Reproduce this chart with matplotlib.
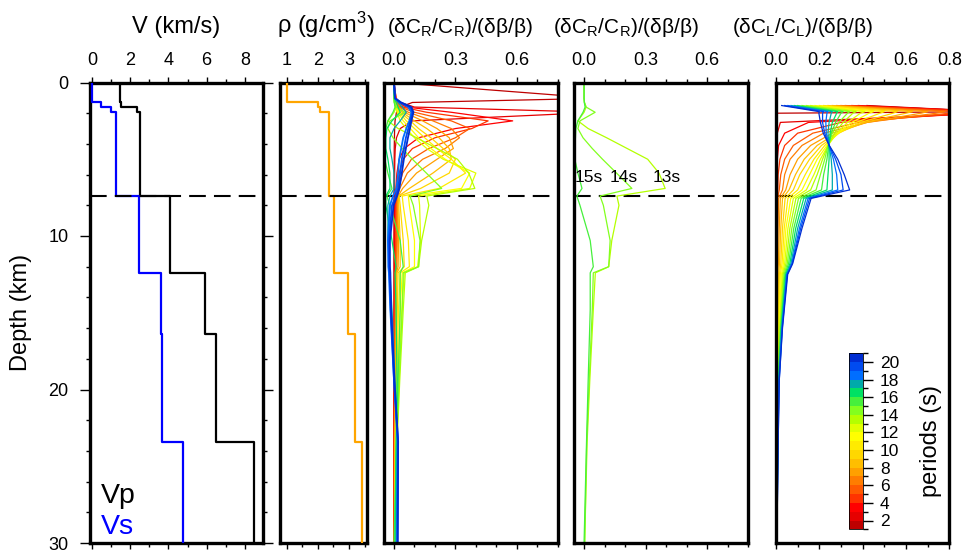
import numpy as np
import matplotlib
matplotlib.use('Agg')
import matplotlib.pyplot as plt
from matplotlib.colors import ListedColormap, BoundaryNorm
from matplotlib.cm import ScalarMappable
from matplotlib.ticker import MultipleLocator, FixedLocator, FormatStrFormatter

plt.rcParams['font.family'] = ['Liberation Sans', 'DejaVu Sans']
plt.rcParams['mathtext.fontset'] = 'custom'
plt.rcParams['mathtext.rm'] = 'Liberation Sans'
plt.rcParams['mathtext.it'] = 'Liberation Sans'
plt.rcParams['mathtext.bf'] = 'Liberation Sans:bold'

# ---------------- velocity / density model ----------------
model_depth = [0.0, 1.3, 1.57, 1.9, 7.4, 12.4, 16.4, 23.4, 30.0]
vp = [1.48, 1.54, 2.35, 2.49, 4.06, 5.89, 6.50, 8.45]
vs = [0.0, 0.455, 0.98, 1.24, 2.46, 3.61, 3.66, 4.76]
rho = [1.02, 2.01, 2.06, 2.35, 2.52, 2.96, 3.19, 3.41]
interface_depth = 7.4

# ---------------- periods & colours ----------------
periods = list(range(1, 21))
period_colors = ['#be0000', '#e60000', '#ff0000', '#ff3300', '#ff5a00',
                 '#ff7d00', '#ffa000', '#ffbe00', '#ffd700', '#ffeb00',
                 '#ffff00', '#e1ff00', '#b4ff00', '#82ff1e', '#46f03c',
                 '#00e164', '#00aaaa', '#006eff', '#004bf0', '#002dd2']

# ---------------- Rayleigh kernels ----------------
ray_depth = [0.0, 1.03, 1.3, 1.6, 1.94, 2.5, 3.0, 3.6, 4.3, 5.0, 5.9, 6.9,
             7.4, 8.0, 10.3, 12.0, 12.4, 14.8, 19.4, 23.4, 30.0]
ray_k = [
    [0, 1.0, 0.09, 0.03, 0.012, 0.005, 0.003, 0.002, 0.001, 0.001, 0, 0, 0, 0, 0, 0, 0, 0, 0, 0, 0],
    [0, 0.01, 0.03, 0.10, 1.0, 0.09, 0.03, 0.012, 0.006, 0.004, 0.003, 0.002, 0.002, 0.002, 0.001, 0.001, 0.001, 0.001, 0, 0, 0],
    [0, 0.01, 0.02, 0.06, 0.28, 0.58, 0.30, 0.12, 0.05, 0.025, 0.014, 0.009, 0.007, 0.006, 0.005, 0.004, 0.003, 0.002, 0.001, 0.001, 0],
    [0, 0.006, 0.015, 0.04, 0.16, 0.46, 0.38, 0.20, 0.09, 0.045, 0.025, 0.015, 0.012, 0.011, 0.009, 0.007, 0.005, 0.004, 0.002, 0.001, 0.001],
    [0, 0.005, 0.012, 0.03, 0.10, 0.28, 0.37, 0.30, 0.17, 0.085, 0.042, 0.022, 0.016, 0.014, 0.012, 0.01, 0.007, 0.006, 0.004, 0.002, 0.001],
    [0, 0.004, 0.01, 0.025, 0.07, 0.19, 0.28, 0.32, 0.25, 0.14, 0.065, 0.028, 0.018, 0.016, 0.016, 0.014, 0.009, 0.008, 0.005, 0.003, 0.002],
    [0, 0.003, 0.008, 0.02, 0.05, 0.14, 0.21, 0.27, 0.29, 0.21, 0.11, 0.042, 0.02, 0.019, 0.022, 0.02, 0.011, 0.01, 0.007, 0.004, 0.002],
    [0, 0.003, 0.006, 0.015, 0.04, 0.10, 0.16, 0.22, 0.27, 0.28, 0.19, 0.075, 0.022, 0.023, 0.03, 0.03, 0.014, 0.012, 0.009, 0.005, 0.003],
    [0, 0.002, 0.005, 0.012, 0.03, 0.08, 0.12, 0.18, 0.24, 0.30, 0.27, 0.13, 0.025, 0.03, 0.045, 0.05, 0.02, 0.016, 0.011, 0.007, 0.004],
    [0, 0.002, 0.004, 0.01, 0.025, 0.06, 0.10, 0.15, 0.21, 0.28, 0.35, 0.22, 0.04, 0.045, 0.07, 0.075, 0.03, 0.022, 0.014, 0.009, 0.005],
    [0, 0.001, 0.003, 0.008, 0.02, 0.045, 0.08, 0.12, 0.18, 0.25, 0.37, 0.33, 0.07, 0.075, 0.10, 0.10, 0.04, 0.03, 0.018, 0.011, 0.006],
    [0, 0.001, 0.002, 0.006, 0.015, 0.03, 0.06, 0.10, 0.16, 0.24, 0.40, 0.37, 0.12, 0.125, 0.13, 0.115, 0.05, 0.038, 0.022, 0.013, 0.007],
    [0, 0.0, 0.002, 0.01, 0.0, -0.03, 0.02, 0.11, 0.21, 0.31, 0.365, 0.395, 0.16, 0.17, 0.135, 0.12, 0.055, 0.045, 0.028, 0.015, 0.003],
    [0, 0.0, 0.002, 0.01, 0.054, -0.02, -0.03, -0.005, 0.04, 0.09, 0.158, 0.233, 0.078, 0.094, 0.127, 0.12, 0.045, 0.04, 0.025, 0.013, 0.003],
    [0, 0.0, 0.001, 0.005, -0.005, -0.03, -0.04, -0.042, -0.045, -0.045, -0.03, -0.01, -0.035, -0.02, 0.03, 0.045, 0.03, 0.03, 0.02, 0.012, 0.0],
    [0, 0.002, 0.01, 0.02, 0.03, -0.01, -0.035, -0.04, -0.04, -0.03, -0.02, -0.02, -0.04, -0.04, -0.01, 0.01, 0.005, 0.01, 0.015, 0.01, 0.005],
    [0, 0.003, 0.02, 0.04, 0.06, 0.03, 0.0, -0.02, -0.02, -0.01, 0.0, 0.0, -0.02, -0.03, -0.03, -0.02, -0.02, -0.01, 0.005, 0.015, 0.01],
    [0, 0.004, 0.03, 0.07, 0.085, 0.075, 0.06, 0.045, 0.035, 0.025, 0.02, 0.012, -0.005, -0.02, -0.03, -0.028, -0.025, -0.018, 0.0, 0.018, 0.015],
    [0, 0.005, 0.03, 0.08, 0.09, 0.08, 0.07, 0.058, 0.048, 0.038, 0.03, 0.02, 0.008, -0.01, -0.025, -0.025, -0.022, -0.016, 0.0, 0.02, 0.017],
    [0, 0.005, 0.035, 0.085, 0.095, 0.085, 0.078, 0.068, 0.058, 0.048, 0.038, 0.026, 0.015, -0.002, -0.02, -0.02, -0.018, -0.014, 0.002, 0.02, 0.018],
]
selected_periods = [13, 14, 15]
selected_labels = ['13s', '14s', '15s']
selected_label_x = [0.404, 0.192, 0.024]

# ---------------- Love kernels ----------------
love_depth = [1.5, 1.9, 2.0, 2.6, 3.3, 4.1, 5.0, 6.0, 7.0, 7.55, 9.5, 11.8,
              12.5, 16.0, 19.4, 23.4, 30.0]
love_k = [
    [0.42, 1.00, 0.006, 0.004, 0.003, 0.002, 0.002, 0.002, 0.002, 0.001, 0.001, 0.001, 0.0, 0.0, 0.0, 0.0, 0.0],
    [0.38, 1.00, 0.95, 0.02, 0.006, 0.004, 0.003, 0.003, 0.003, 0.002, 0.001, 0.001, 0.001, 0.0, 0.0, 0.0, 0.0],
    [0.35, 1.00, 0.95, 0.15, 0.04, 0.012, 0.006, 0.004, 0.004, 0.002, 0.002, 0.001, 0.001, 0.001, 0.0, 0.0, 0.0],
    [0.32, 0.95, 0.88, 0.30, 0.10, 0.04, 0.018, 0.01, 0.008, 0.004, 0.003, 0.002, 0.002, 0.001, 0.001, 0.0, 0.0],
    [0.30, 0.85, 0.80, 0.38, 0.17, 0.08, 0.04, 0.022, 0.015, 0.007, 0.005, 0.004, 0.003, 0.002, 0.001, 0.001, 0.0],
    [0.28, 0.78, 0.74, 0.42, 0.22, 0.12, 0.065, 0.04, 0.03, 0.012, 0.009, 0.007, 0.005, 0.003, 0.002, 0.001, 0.0],
    [0.26, 0.70, 0.67, 0.42, 0.26, 0.16, 0.10, 0.065, 0.045, 0.02, 0.015, 0.011, 0.008, 0.005, 0.003, 0.002, 0.001],
    [0.24, 0.63, 0.60, 0.41, 0.28, 0.19, 0.13, 0.09, 0.06, 0.03, 0.022, 0.016, 0.012, 0.007, 0.004, 0.003, 0.001],
    [0.22, 0.56, 0.54, 0.39, 0.29, 0.21, 0.155, 0.11, 0.08, 0.042, 0.03, 0.022, 0.016, 0.009, 0.005, 0.004, 0.001],
    [0.20, 0.50, 0.48, 0.37, 0.29, 0.225, 0.175, 0.135, 0.10, 0.055, 0.038, 0.028, 0.02, 0.011, 0.006, 0.005, 0.002],
    [0.18, 0.45, 0.43, 0.35, 0.285, 0.235, 0.19, 0.155, 0.12, 0.068, 0.046, 0.034, 0.025, 0.013, 0.007, 0.005, 0.002],
    [0.16, 0.41, 0.39, 0.33, 0.28, 0.24, 0.205, 0.175, 0.14, 0.08, 0.055, 0.04, 0.029, 0.015, 0.008, 0.006, 0.002],
    [0.14, 0.37, 0.355, 0.31, 0.27, 0.24, 0.215, 0.19, 0.16, 0.092, 0.064, 0.046, 0.033, 0.018, 0.009, 0.006, 0.002],
    [0.12, 0.34, 0.33, 0.29, 0.26, 0.24, 0.225, 0.205, 0.185, 0.104, 0.073, 0.052, 0.037, 0.02, 0.01, 0.007, 0.003],
    [0.10, 0.31, 0.30, 0.275, 0.255, 0.243, 0.235, 0.22, 0.21, 0.116, 0.082, 0.058, 0.041, 0.022, 0.011, 0.008, 0.003],
    [0.085, 0.285, 0.28, 0.26, 0.25, 0.245, 0.245, 0.24, 0.235, 0.128, 0.091, 0.064, 0.045, 0.024, 0.012, 0.008, 0.003],
    [0.07, 0.26, 0.255, 0.245, 0.24, 0.245, 0.255, 0.26, 0.26, 0.139, 0.10, 0.069, 0.048, 0.026, 0.013, 0.009, 0.003],
    [0.055, 0.24, 0.235, 0.23, 0.232, 0.245, 0.265, 0.28, 0.285, 0.148, 0.108, 0.073, 0.05, 0.028, 0.014, 0.009, 0.004],
    [0.04, 0.22, 0.215, 0.215, 0.225, 0.245, 0.275, 0.30, 0.31, 0.155, 0.114, 0.075, 0.052, 0.029, 0.015, 0.01, 0.004],
    [0.026, 0.20, 0.198, 0.205, 0.218, 0.246, 0.285, 0.315, 0.34, 0.162, 0.12, 0.077, 0.054, 0.03, 0.015, 0.01, 0.004],
]

titles = ['V (km/s)', r'ρ (g/cm$^3$)', r'$\mathregular{(δC_R/C_R)/(δβ/β)}$',
          r'$\mathregular{(δC_R/C_R)/(δβ/β)}$', r'$\mathregular{(δC_L/C_L)/(δβ/β)}$']
title_sizes = [17, 17, 15, 15, 15]

# ---------------- figure ----------------
W, H = 970, 553
fig = plt.figure(figsize=(W / 100, H / 100), dpi=100)


def fx(px):
    return px / W


def fy(py):
    return 1 - py / H


top_px, bot_px = 82.5, 543.0
panel_px = [(90, 263.3), (280, 366.7), (384, 557.7), (574, 748.3), (776, 949.3)]
xlims = [(-0.1, 8.96), (0.785, 3.57), (-0.049, 0.8), (-0.049, 0.8), (0.0, 0.8)]
major_x = [2, 1, 0.3, 0.3, 0.2]
minor_x = [1, 0.5, 0.1, 0.1, 0.1]
title_left_px = [131.7, 276.7, 386.7, 553.3, 731.7]

axes = []
for i, (l, r) in enumerate(panel_px):
    ax = fig.add_axes([fx(l), fy(bot_px), (r - l) / W, (bot_px - top_px) / H])
    ax.set_xlim(*xlims[i])
    ax.set_ylim(30, 0)
    ax.xaxis.set_major_locator(MultipleLocator(major_x[i]))
    ax.xaxis.set_minor_locator(MultipleLocator(minor_x[i]))
    ax.tick_params(axis='x', which='both', direction='out', top=True, bottom=True,
                   labeltop=True, labelbottom=False, width=1.0, labelsize=13, pad=5)
    ax.tick_params(axis='x', which='major', length=4.5)
    ax.tick_params(axis='x', which='minor', length=3.0)
    for s in ax.spines.values():
        s.set_linewidth(2.4)
    if i == 0:
        ax.yaxis.set_major_locator(MultipleLocator(10))
        ax.yaxis.set_minor_locator(MultipleLocator(2))
        ax.tick_params(axis='y', which='both', direction='out', left=True, right=True,
                       width=1.0, labelsize=13, pad=8)
        ax.tick_params(axis='y', which='major', length=7.5)
        ax.tick_params(axis='y', which='minor', length=3.2)
        ax.set_ylabel('Depth (km)', fontsize=17, labelpad=12)
    else:
        ax.tick_params(axis='y', which='both', left=False, right=False, labelleft=False)
    fig.text(fx(title_left_px[i]), fy(33.3), titles[i], fontsize=title_sizes[i],
             ha='left', va='baseline')
    axes.append(ax)

ax1, ax2, ax3, ax4, ax5 = axes
ax1.xaxis.set_major_formatter(FormatStrFormatter('%d'))
ax2.xaxis.set_major_formatter(FormatStrFormatter('%d'))
ax2.xaxis.set_major_locator(FixedLocator([1, 2, 3]))
for ax in (ax3, ax4, ax5):
    ax.xaxis.set_major_formatter(FormatStrFormatter('%.1f'))


def steps(vals):
    y = np.repeat(model_depth, 2)[1:-1]
    x = np.repeat(vals, 2)
    return x, y


dash_kw = dict(color='black', lw=1.5, dashes=(8, 3.9))

# panel 1
x, y = steps(vp)
ax1.plot(x, y, color='black', lw=1.6, zorder=3)
x, y = steps(vs)
ax1.plot(x, y, color='#0000ff', lw=1.6, zorder=3)
ax1.axhline(interface_depth, zorder=4, **dash_kw)
ax1.text(0.45, 27.41, 'Vp', fontsize=20.5, color='black', ha='left', va='baseline')
ax1.text(0.45, 29.43, 'Vs', fontsize=20.5, color='#0000ff', ha='left', va='baseline')

# panel 2
x, y = steps(rho)
ax2.plot(x, y, color='#ffa500', lw=1.6, zorder=3)
ax2.axhline(interface_depth, zorder=4, **dash_kw)

# panel 3 - Rayleigh kernels for all periods
ax3.axhline(interface_depth, zorder=1, **dash_kw)
for p, vals in zip(periods, ray_k):
    lw = 1.3 if p >= 18 else 0.9
    ax3.plot(vals, ray_depth, color=period_colors[p - 1], lw=lw, zorder=2)

# panel 4 - selected periods
ax4.axhline(interface_depth, zorder=1, **dash_kw)
for p, lab, lx in zip(selected_periods, selected_labels, selected_label_x):
    ax4.plot(ray_k[p - 1], ray_depth, color=period_colors[p - 1], lw=0.9, zorder=2)
    ax4.text(lx, 6.46, lab, fontsize=12.5, ha='center', va='baseline', zorder=5)

# panel 5 - Love kernels
ax5.axhline(interface_depth, zorder=1, **dash_kw)
for p, vals in zip(periods, love_k):
    ax5.plot(vals, love_depth, color=period_colors[p - 1], lw=0.9, zorder=2)

# colorbar
cmap = ListedColormap(period_colors)
bounds = np.arange(1, 22)
norm = BoundaryNorm(bounds, cmap.N)
cax = fig.add_axes([fx(849.3), fy(529.3), 14 / W, 176 / H])
cb = fig.colorbar(ScalarMappable(norm=norm, cmap=cmap), cax=cax, orientation='vertical')
cb.set_ticks(list(range(2, 21, 2)))
cb.ax.yaxis.set_minor_locator(FixedLocator(list(range(1, 22, 2))))
cb.ax.tick_params(which='major', length=7, width=1.0, labelsize=12.5, pad=5)
cb.ax.tick_params(which='minor', length=3.5, width=1.0)
cb.outline.set_linewidth(0.6)
fig.text(fx(931), fy(441.3), 'periods (s)', fontsize=17, rotation=90,
         ha='center', va='center')

fig.savefig('out.png', dpi=100)
